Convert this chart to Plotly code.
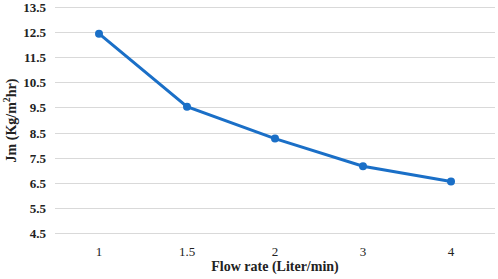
import plotly.graph_objects as go

flow_rates = ["1", "1.5", "2", "3", "4"]
jm_values = [12.45, 9.55, 8.28, 7.18, 6.58]
y_ticks = [4.5, 5.5, 6.5, 7.5, 8.5, 9.5, 10.5, 11.5, 12.5, 13.5]

fig = go.Figure()
fig.add_trace(go.Scatter(
    x=flow_rates, y=jm_values, mode="lines+markers",
    line=dict(color="#1a6fc7", width=3),
    marker=dict(color="#1a6fc7", size=8),
))

fig.update_layout(
    width=498, height=279,
    margin=dict(l=55, r=3, t=6, b=44),
    paper_bgcolor="white", plot_bgcolor="white",
    showlegend=False,
    font=dict(family="Liberation Serif", color="#222222", size=13),
)
fig.update_xaxes(
    type="category", range=[-0.5, 4.5], automargin=False,
    showgrid=False, showline=False, zeroline=False,
    ticks="", tickfont=dict(size=13), ticklabelstandoff=7,
    title=dict(text="<b>Flow rate (Liter/min)</b>", font=dict(size=14), standoff=3),
)
fig.update_yaxes(
    range=[4.45, 13.55], tickvals=y_ticks, ticktext=[f"<b>{v}</b>" for v in y_ticks],
    automargin=False, ticklabeloverflow="allow",
    showgrid=True, gridcolor="#d9d9d9", gridwidth=1,
    showline=False, zeroline=False, ticks="",
    tickfont=dict(size=13), ticklabelstandoff=8,
    title=dict(text="<b>Jm (Kg/m<sup>2</sup>hr)</b>", font=dict(size=14), standoff=3),
)

# drop the page's default body margin so the chart sits at the window's corner
fig.write_html("out.html", config={"displayModeBar": False},
               post_script="document.body.style.margin='0';")
